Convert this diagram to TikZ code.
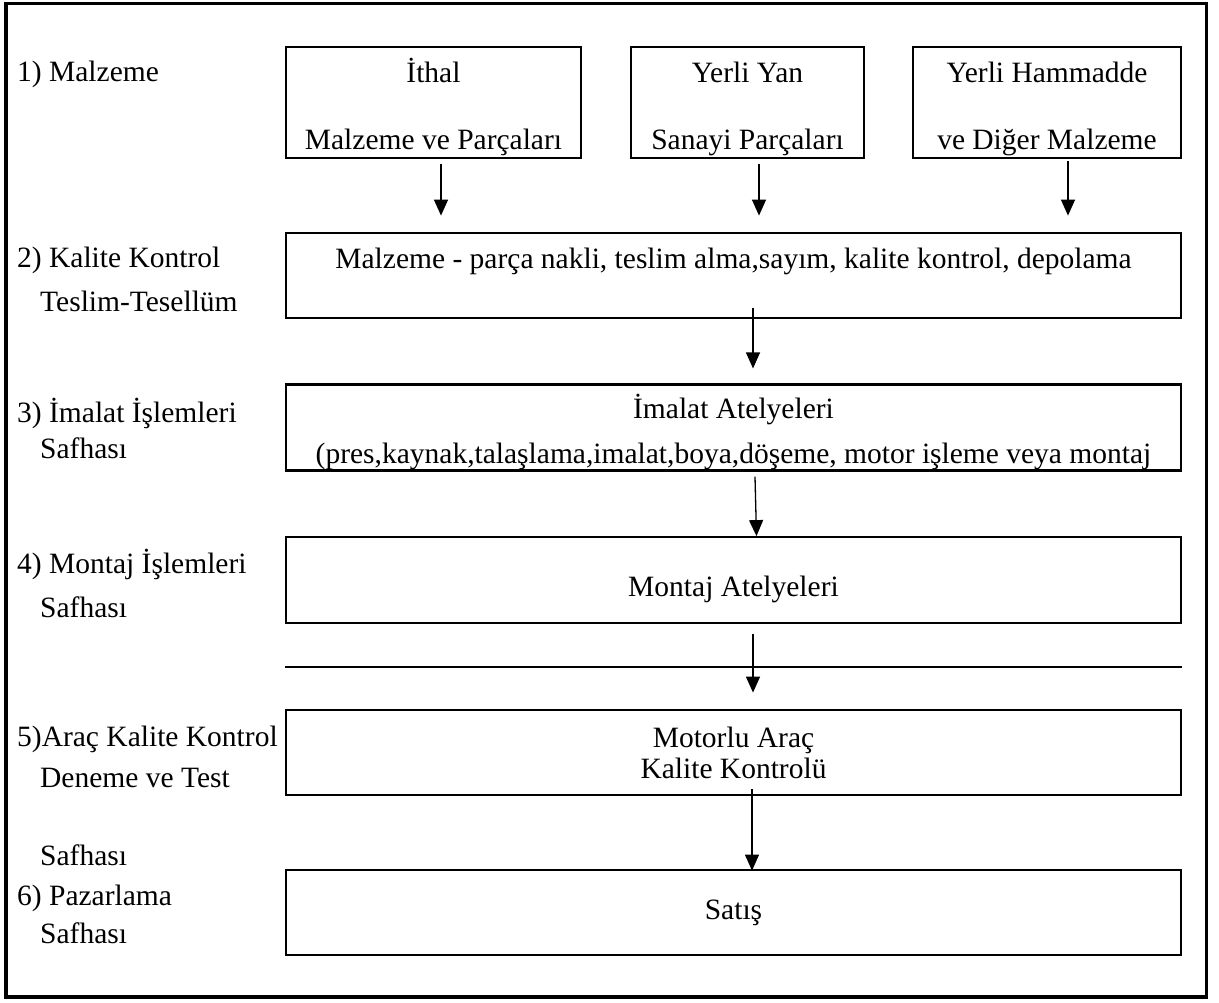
\documentclass[tikz,border=0pt]{standalone}
\usepackage{fontspec}
\setmainfont{Liberation Serif}
\usepackage{tikz}
\usetikzlibrary{arrows.meta, calc}
\tikzset{>={Triangle[width=14pt,length=16pt]}}

\begin{document}
\begin{tikzpicture}[x=1pt,y=-1pt,
    every node/.style={font=\fontsize{29.5}{31}\selectfont},
    box/.style={draw,line width=2.8pt,inner sep=0pt,align=center},
    wide/.style={box,minimum width=895pt,minimum height=85pt},
    lbl/.style={anchor=west,inner sep=0pt,align=left},
    arr/.style={->,line width=1.3pt}]
    \useasboundingbox (0,0) rectangle (1219,1003);
    \draw[line width=3.4pt] (6,3.5) rectangle (1206.5,997);
    % kaynaklar
    \node[box,minimum width=295pt,minimum height=111pt] (ithal) at (433.5,102.5) {\rule{0pt}{34pt}İthal\\[36pt]Malzeme ve Parçaları};
    \node[box,minimum width=233pt,minimum height=111pt] (yan) at (747.5,102.5) {\rule{0pt}{34pt}Yerli Yan\\[36pt]Sanayi Parçaları};
    \node[box,minimum width=268pt,minimum height=111pt] (hammadde) at (1047,102.5) {\rule{0pt}{34pt}Yerli Hammadde\\[36pt]ve Diğer Malzeme};
    % safhalar
    \node[wide] (teslim) at (733.5,275.5) {Malzeme - parça nakli, teslim alma,sayım, kalite kontrol, depolama\\[-5pt]\strut};
    \node[wide] (imalat) at (733.5,427.5) {\rule{0pt}{34pt}İmalat Atelyeleri\\[14pt](pres,kaynak,talaşlama,imalat,boya,döşeme, motor işleme veya montaj};
    \node[wide,line width=1.8pt,minimum height=86pt] (montaj) at (733.5,580) {\rule{0pt}{40pt}Montaj Atelyeleri};
    \node[wide] (arac) at (733.5,752.5) {Motorlu Araç\\Kalite Kontrolü};
    \node[wide] (satis) at (733.5,912.5) {Satış};
    % sol etiketler
    \node[lbl] (l1) at (17,74) {1) Malzeme};
    \node[lbl] (l2) at (17,279) {2) Kalite Kontrol\\[13pt]\hspace*{23pt}Teslim-Tesellüm};
    \node[lbl] (l3) at (17,428) {3) İmalat İşlemleri\\[5pt]\hspace*{23pt}Safhası};
    \node[lbl] (l4) at (17,583) {4) Montaj İşlemleri\\[13pt]\hspace*{23pt}Safhası};
    \node[lbl] (l5) at (17,796) {5)Araç Kalite Kontrol\\[10pt]\hspace*{23pt}Deneme ve Test\\[47pt]\hspace*{23pt}Safhası};
    \node[lbl] (l6) at (17,914) {6) Pazarlama\\[7pt]\hspace*{23pt}Safhası};
    % oklar
    \draw[arr] ([xshift=7.5pt,yshift=-5pt]ithal.south) -- ([xshift=7.5pt,yshift=16pt]ithal.south |- teslim.north);
    \draw[arr] ([xshift=11.5pt,yshift=-5pt]yan.south) -- ([xshift=11.5pt,yshift=16pt]yan.south |- teslim.north);
    \draw[arr] ([xshift=21pt,yshift=-2pt]hammadde.south) -- ([xshift=21pt,yshift=16pt]hammadde.south |- teslim.north);
    \draw[arr] ([xshift=19.5pt,yshift=11pt]teslim.south) -- ([xshift=19.5pt,yshift=15pt]imalat.north);
    \draw[arr] ([xshift=21.5pt,yshift=-5pt]imalat.south) -- ([xshift=23pt]montaj.north);
    \draw[line width=1.8pt] ([yshift=-43pt]montaj.south west) -- ([yshift=-43pt]montaj.south east);
    \draw[arr] ([xshift=19.5pt,yshift=-10pt]montaj.south) -- ([xshift=19.5pt,yshift=16pt]arac.north);
    \draw[arr] ([xshift=18.5pt,yshift=7pt]arac.south) -- ([xshift=18.5pt,yshift=-2pt]satis.north);
\end{tikzpicture}
\end{document}
